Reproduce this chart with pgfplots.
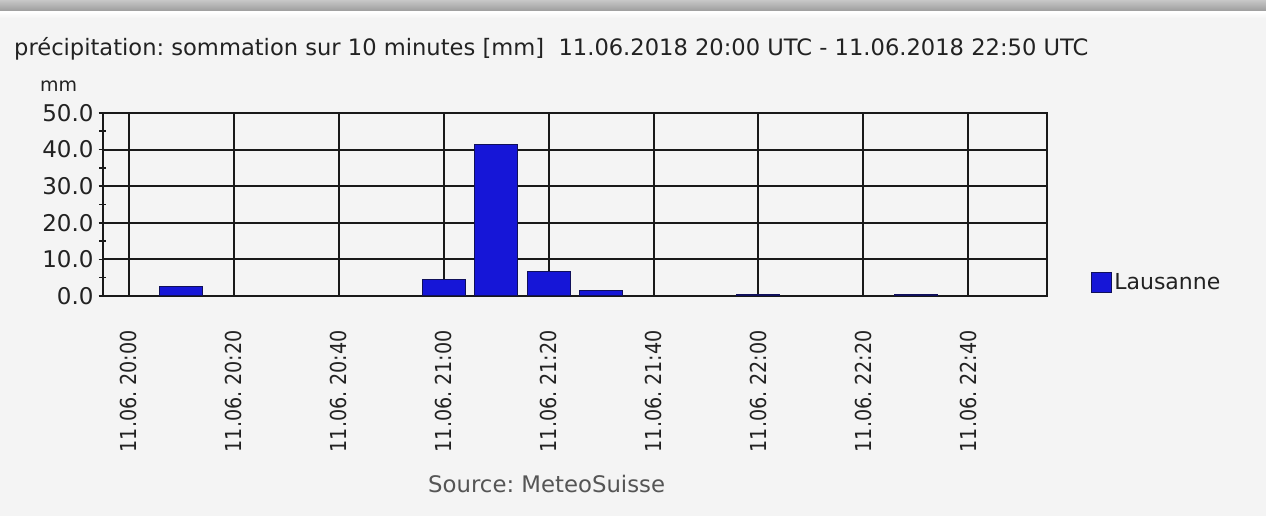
\documentclass[border=0pt]{standalone}
\usepackage{pgfplots}
\pgfplotsset{compat=1.18}
\usepackage{fontspec}
\setmainfont{DejaVu Sans}
\newfontfamily\condfont[FakeStretch=0.87]{DejaVu Sans}
\definecolor{bg}{HTML}{F4F4F4}
\definecolor{barblue}{RGB}{22,22,215}
\definecolor{baredge}{RGB}{16,16,90}
\definecolor{txt}{HTML}{222222}
\definecolor{srcgray}{HTML}{555555}
\frenchspacing
\begin{document}
\begin{tikzpicture}[x=1pt,y=1pt]
\useasboundingbox (0,0) rectangle (1266,516);
\fill[bg] (0,0) rectangle (1266,516);
\shade[top color=black!22, bottom color=black!40] (0,504) rectangle (1266,516);
\shade[top color=white, bottom color=bg] (0,498) rectangle (1266,504);
\begin{axis}[
  at={(102.7pt,220pt)}, anchor=south west, scale only axis,
  width=944.3pt, height=183pt,
  xmin=-0.5, xmax=17.5, ymin=0, ymax=50,
  axis background/.style={fill=bg},
  ybar, bar width=0.82,
  xtick={0,2,...,16},
  xticklabels={11.06. 20:00,11.06. 20:20,11.06. 20:40,11.06. 21:00,11.06. 21:20,11.06. 21:40,11.06. 22:00,11.06. 22:20,11.06. 22:40},
  ytick={0,10,...,50}, minor ytick={5,15,...,45},
  tick pos=left,
  grid=major, major grid style={black!90, line width=2pt},
  axis line style={black!90, line width=2pt},
  tick align=center, major tick length=8pt, minor tick length=7pt,
  tick style={black!90, line width=1.6pt},
  xtick style={draw=none},
  yticklabel style={font=\fontsize{23}{27}\selectfont, text=txt, inner sep=0pt},
  yticklabel shift=5pt,
  y tick label style={/pgf/number format/.cd, fixed, fixed zerofill, precision=1, assume math mode=true},
  xticklabel style={font=\condfont\fontsize{22}{26}\selectfont, rotate=90, anchor=east, text=txt, inner sep=0pt},
  xticklabel shift=30pt,
  legend style={at={(1.0467,0.0738)}, anchor=west, draw=none, fill=none, inner sep=0pt,
    font=\fontsize{22}{26}\selectfont, text=txt},
]
\addplot[fill=barblue, draw=baredge, line width=1pt,
  legend image code/.code={\draw[fill=barblue, draw=baredge, line width=1pt] (0pt,-10pt) rectangle (20pt,10pt);}]
  coordinates {(1,2.5) (6,4.6) (7,41.4) (8,6.6) (9,1.6) (12,0.3) (15,0.3)};
\addlegendentry{Lausanne}
\end{axis}
\node[anchor=base west, inner sep=0pt, text=txt, font=\fontsize{22.6}{27}\selectfont] at (14,460) {précipitation: sommation sur 10 minutes [mm]\ \ 11.06.2018 20:00 UTC - 11.06.2018 22:50 UTC};
\node[anchor=base west, inner sep=0pt, text=txt, font=\fontsize{19}{23}\selectfont] at (40,424) {mm};
\node[anchor=base west, inner sep=0pt, text=srcgray, font=\fontsize{22.8}{27}\selectfont] at (428,23) {Source: MeteoSuisse};
\end{tikzpicture}
\end{document}
